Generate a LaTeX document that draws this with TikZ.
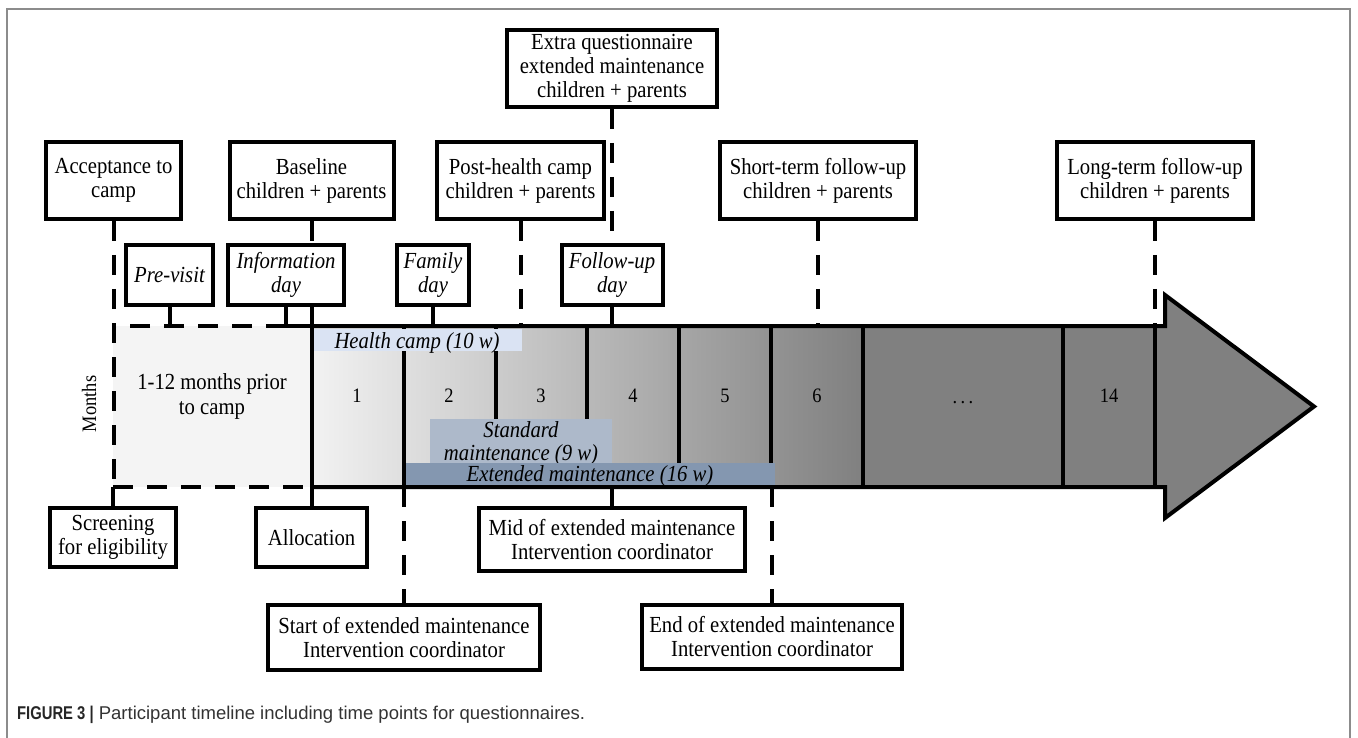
\documentclass[tikz,border=0pt]{standalone}
\usepackage{fontspec}
\setmainfont{Liberation Serif}[FakeStretch=0.9]
\newfontfamily\capfont{Liberation Sans}
\newfontfamily\capcond{Liberation Sans}[FakeStretch=0.8]
\usetikzlibrary{calc}
\definecolor{hcamp}{HTML}{DAE3F3}
\definecolor{stdm}{HTML}{ADB9CA}
\definecolor{extm}{HTML}{8497B0}
\definecolor{arrowgray}{HTML}{808080}
\definecolor{lightg}{HTML}{F2F2F2}
\definecolor{prebox}{HTML}{F4F4F4}
\definecolor{framegray}{HTML}{8C8C8C}
\definecolor{capgray}{HTML}{333333}
\begin{document}
\begin{tikzpicture}[x=1pt,y=-1pt,line join=miter,
  tbox/.style={draw, line width=4pt, fill=white, align=center, inner sep=0pt,
    font=\fontsize{23}{24}\selectfont},
  ibox/.style={tbox, font=\fontsize{23}{24}\selectfont\itshape},
  bartext/.style={inner sep=0pt, font=\fontsize{23}{24}\selectfont\itshape},
  numtext/.style={inner sep=0pt, font=\fontsize{20.5}{22}\selectfont},
  dline/.style={line width=4pt, dash pattern=on 20pt off 14pt},
  sline/.style={line width=4pt},
  ]
\useasboundingbox (0,0) rectangle (1358,738);
% frame
\draw[framegray, line width=1.5pt] (7,760) -- (7,9) -- (1350,9) -- (1350,760);

% coordinates of the timeline body
\coordinate (tl) at (311.5,326);
\coordinate (bl) at (311.5,487);

% fills
\fill[prebox] (113,326) rectangle (bl);
\fill[arrowgray] (tl) -- (1165,326) -- (1165,295) -- (1314,406.5) -- (1165,518) -- (1165,487) -- (bl) -- cycle;
\shade[left color=lightg, right color=arrowgray] (tl) rectangle (863,487);

% month dividers
\foreach \x in {404,496,587,679,771,863,1063,1155}
  \draw[sline] (\x,326) -- (\x,487);

% bars
\fill[hcamp] (313.5,328.5) rectangle (522,351);
\fill[stdm] (430,419) rectangle (612,463);
\node[bartext, anchor=base] (hct) at (417,348) {Health camp (10 w)};
\node[bartext, anchor=base] (smt1) at (521,437) {Standard};
\node[bartext, anchor=base] (smt2) at (521,460) {maintenance (9 w)};
\fill[extm] (406,463) rectangle (775,485);
\node[bartext, anchor=base] (emt) at (590,481) {Extended maintenance (16 w)};

% outline of the arrow
\draw[sline] (tl) -- (1165,326) -- (1165,295) -- (1314,406.5) -- (1165,518) -- (1165,487) -- (bl);

% pre-camp dashed box
\draw[dline] (286,326) -- (113,326);
\draw[dline] (113,487) -- (bl);

% month labels
\node[numtext] (m1) at (357,396) {1};
\node[numtext] (m2) at (449,396) {2};
\node[numtext] (m3) at (541,396) {3};
\node[numtext] (m4) at (633,396) {4};
\node[numtext] (m5) at (725,396) {5};
\node[numtext] (m6) at (817,396) {6};
\node[numtext, anchor=base] (mdots) at (963,403) {.\,.\,.};
\node[numtext] (m14) at (1109,396) {14};
\node[inner sep=0pt, align=center, font=\fontsize{23}{25}\selectfont] (prior) at (212,396) {1-12 months prior\\to camp};
\node[numtext, rotate=90] (months) at (89,404) {Months};

% top boxes
\node[tbox, minimum width=135, minimum height=77] (acc) at (113.5,180.5) {Acceptance to\\camp};
\node[tbox, minimum width=164, minimum height=77] (base) at (311.5,180.5) {Baseline\\children + parents};
\node[tbox, minimum width=167, minimum height=77] (post) at (520.5,180.5) {Post-health camp\\children + parents};
\node[tbox, minimum width=210, minimum height=77] (extra) at (612,68.5) {Extra questionnaire\\extended maintenance\\children + parents};
\node[tbox, minimum width=196, minimum height=77] (short) at (818,180.5) {Short-term follow-up\\children + parents};
\node[tbox, minimum width=196, minimum height=77] (long) at (1155,180.5) {Long-term follow-up\\children + parents};

\node[ibox, minimum width=87, minimum height=60] (pre) at (169.5,275) {Pre-visit};
\node[ibox, minimum width=116, minimum height=60] (info) at (286,275) {Information\\day};
\node[ibox, minimum width=72, minimum height=60] (fam) at (433,275) {Family\\day};
\node[ibox, minimum width=101, minimum height=60] (fu) at (612,275) {Follow-up\\day};

% bottom boxes
\node[tbox, minimum width=126, minimum height=59] (scr) at (113,537.5) {Screening\\for eligibility};
\node[tbox, minimum width=111, minimum height=59] (alloc) at (311.5,537.5) {Allocation};
\node[tbox, minimum width=266, minimum height=63] (mid) at (612,539.5) {Mid of extended maintenance\\Intervention coordinator};
\node[tbox, minimum width=272, minimum height=65] (start) at (404,637.5) {Start of extended maintenance\\Intervention coordinator};
\node[tbox, minimum width=260, minimum height=64] (end) at (772,637) {End of extended maintenance\\Intervention coordinator};

% connectors
\draw[dline] (acc.south) -- (acc.south |- bl);
\draw[sline] (scr.north |- bl) -- (scr.north);
\draw[dline] (base.south) -- (base.south |- info.north);
\draw[sline] (base.south |- info.south) -- (alloc.north);
\draw[sline] (pre.south) -- (pre.south |- tl);
\draw[sline] (info.south) |- (tl);
\draw[sline] (fam.south) -- (fam.south |- tl);
\draw[dline] (post.south) -- (post.south |- tl);
\draw[dline] (extra.south) -- (fu.north);
\draw[sline] (fu.south) -- (fu.south |- tl);
\draw[dline] (short.south) -- (short.south |- tl);
\draw[dline] (long.south) -- (long.south |- tl);
\draw[sline] (mid.north |- bl) -- (mid.north);
\draw[dline] (start.north |- bl) -- (start.north);
\draw[dline] (end.north |- bl) -- (end.north);

% caption
\node[anchor=base west, inner sep=0pt, text=capgray, font=\capfont\fontsize{18.5}{20}\selectfont] (cap) at (17,719)
  {{\capcond\bfseries\color{black!85}FIGURE 3 |} Participant timeline including time points for questionnaires.};
\end{tikzpicture}
\end{document}
